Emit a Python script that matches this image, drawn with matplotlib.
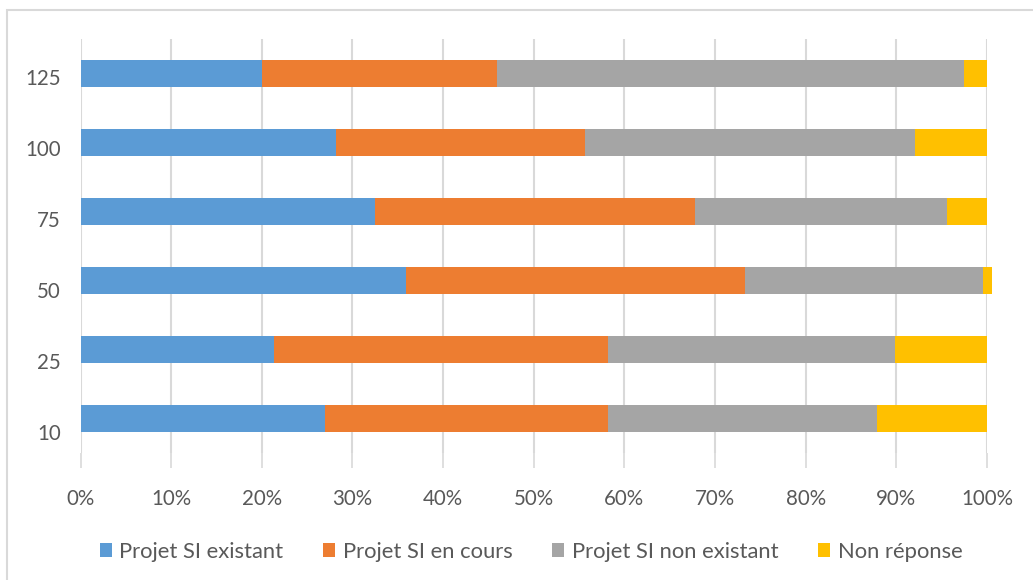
import matplotlib
matplotlib.use("Agg")
import matplotlib.pyplot as plt
import matplotlib.transforms as mtransforms
from matplotlib.patches import Patch, Rectangle
from matplotlib.ticker import PercentFormatter

plt.rcParams['font.family'] = ['Lato', 'DejaVu Sans']

categories = ['10', '25', '50', '75', '100', '125']
existant = [27.0, 21.4, 35.9, 32.5, 28.2, 20.0]
en_cours = [31.2, 36.8, 37.4, 35.3, 27.5, 26.0]
non_existant = [29.7, 31.7, 26.3, 27.8, 36.4, 51.5]
non_reponse = [12.1, 10.1, 1.0, 4.4, 7.9, 2.5]

series_names = ['Projet SI existant', 'Projet SI en cours', 'Projet SI non existant', 'Non réponse']
colors = ['#5B9BD5', '#ED7D31', '#A5A5A5', '#FFC000']
text_color = '#595959'
grid_color = '#D9D9D9'

W, H = 1033, 580
fig = plt.figure(figsize=(W / 100, H / 100), dpi=100)
fig.patch.set_facecolor('white')

# outer chart border
fig.patches.append(Rectangle((7 / W, -0.05), 1.2, 1 - 10 / H + 0.05, transform=fig.transFigure,
                             fill=False, edgecolor='#D9D9D9', linewidth=1.5, zorder=0))

left, right, top, bottom = 80.5, 987, 39, 453
ax = fig.add_axes([left / W, 1 - bottom / H, (right - left) / W, (bottom - top) / H])

ypos = list(range(len(categories)))
lefts = [0.0] * len(categories)
for vals, name, c in zip([existant, en_cours, non_existant, non_reponse], series_names, colors):
    bars = ax.barh(ypos, vals, left=lefts, height=0.4, color=c, label=name, zorder=3)
    for b in bars:
        b.set_clip_on(False)
    lefts = [a + b for a, b in zip(lefts, vals)]

ax.set_xlim(0, 100)
ax.set_ylim(-0.5, len(categories) - 0.5)
ax.set_xticks(range(0, 101, 10))
ax.xaxis.set_major_formatter(PercentFormatter(decimals=0))
ax.set_yticks(ypos)
ax.set_yticklabels(categories)
ax.grid(axis='x', color=grid_color, linewidth=1.5, zorder=0)
for s in ax.spines.values():
    s.set_visible(False)
ax.tick_params(axis='y', length=0, pad=14, labelsize=14.8, labelcolor=text_color)
ax.tick_params(axis='x', length=11, width=1.2, color=grid_color, direction='out', pad=15,
               labelsize=14.8, labelcolor=text_color)

# the category labels in the reference sit slightly below their bars
for i, lab in enumerate(ax.get_yticklabels()):
    shift = -(14 - 2.1 * i) / 100.0
    lab.set_transform(lab.get_transform() + mtransforms.ScaledTranslation(0, shift, fig.dpi_scale_trans))

handles = [Patch(facecolor=c, edgecolor='none') for c in colors]
leg = fig.legend(handles, series_names, loc='center', bbox_to_anchor=(531 / W, 1 - 552 / H),
                 ncol=4, frameon=False, handlelength=0.55, handleheight=0.6,
                 handletextpad=0.35, columnspacing=1.8, fontsize=15.8)
for t in leg.get_texts():
    t.set_color(text_color)

fig.savefig('out.png', dpi=100, facecolor='white')
